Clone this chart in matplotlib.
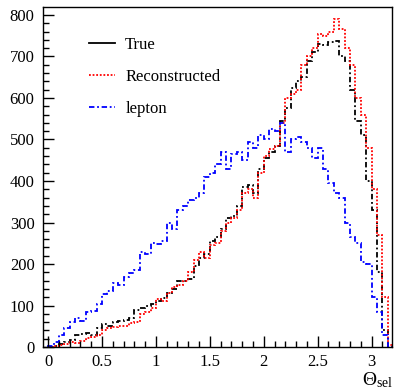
import numpy as np
import matplotlib
matplotlib.use("Agg")
from matplotlib import pyplot as plt
from matplotlib.lines import Line2D
from matplotlib.ticker import MultipleLocator

plt.rcParams['font.family'] = ['Liberation Serif', 'DejaVu Serif']
plt.rcParams['mathtext.fontset'] = 'custom'
plt.rcParams['mathtext.rm'] = 'Liberation Serif'
plt.rcParams['mathtext.it'] = 'Liberation Serif:italic'

# histogram binning (0.05 wide bins from 0 to 3.2)
bin_edges = np.linspace(0.0, 3.2, 65)

true_counts = [0, 3, 8, 12, 18, 28, 32, 35, 30, 45,
               55, 52, 60, 62, 65, 70, 90, 95, 98, 105,
               110, 118, 130, 140, 160, 158, 165, 195, 215, 225,
               255, 265, 285, 310, 315, 340, 385, 390, 370, 430,
               455, 470, 485, 545, 575, 625, 640, 650, 690, 710,
               730, 728, 735, 738, 700, 690, 620, 545, 510, 400,
               330, 180, 40, 0]

reco_counts = [0, 2, 5, 8, 12, 10, 15, 22, 25, 30,
               40, 45, 48, 52, 50, 58, 60, 80, 85, 95,
               115, 112, 130, 145, 150, 160, 180, 210, 230, 215,
               245, 250, 280, 300, 310, 330, 370, 380, 360, 420,
               460, 478, 485, 540, 600, 610, 620, 680, 700, 720,
               755, 750, 760, 790, 765, 720, 680, 600, 560, 480,
               380, 270, 120, 5]

lepton_counts = [3, 12, 30, 45, 60, 70, 62, 85, 88, 105,
                 128, 135, 155, 150, 170, 178, 185, 230, 225, 250,
                 248, 255, 300, 285, 330, 340, 355, 360, 370, 410,
                 420, 440, 470, 430, 465, 470, 450, 495, 480, 510,
                 500, 525, 520, 540, 470, 500, 505, 495, 480, 455,
                 480, 430, 395, 370, 360, 300, 265, 250, 205, 200,
                 120, 85, 30, 0]

labels = ["True", "Reconstructed", "lepton"]

fig = plt.figure(figsize=(3.94, 3.90), dpi=100)
ax = fig.add_axes([0.109, 0.110, 0.886, 0.872])

ax.stairs(true_counts, bin_edges, color="black", lw=1.3, linestyle=(0, (3, 1.5, 1, 1.5)))
ax.stairs(reco_counts, bin_edges, color="red", lw=1.3, linestyle=(0, (1, 1)))
ax.stairs(lepton_counts, bin_edges, color="blue", lw=1.3, linestyle=(0, (3, 1.5, 1, 1.5)))

ax.set_xlim(-0.048, 3.19)
ax.set_ylim(0, 819)

ax.xaxis.set_major_locator(MultipleLocator(0.5))
ax.xaxis.set_minor_locator(MultipleLocator(0.1))
ax.yaxis.set_major_locator(MultipleLocator(100))
ax.yaxis.set_minor_locator(MultipleLocator(20))
ax.xaxis.set_major_formatter(plt.FuncFormatter(lambda v, p: f"{v:g}"))
ax.tick_params(which="both", direction="in", top=False, right=False, labelsize=12)
ax.tick_params(which="major", length=8, width=1)
ax.tick_params(which="minor", length=4, width=1)
ax.tick_params(axis="x", pad=5)
ax.tick_params(axis="y", pad=6)
for s in ax.spines.values():
    s.set_linewidth(1)

# axis title sits at the bottom right corner, ROOT style
fig.text(362 / 394, 1 - 385 / 390, r"$\Theta_{\rm sel}$", fontsize=14,
         ha="left", va="baseline")

handles = [Line2D([], [], color="black", lw=1.3),
           Line2D([], [], color="red", lw=1.3, linestyle=(0, (1, 1))),
           Line2D([], [], color="blue", lw=1.3, linestyle=(0, (3, 1.5, 1, 1.5)))]
ax.legend(handles, labels, loc="upper left", bbox_to_anchor=(0.09, 0.955),
          frameon=False, fontsize=12, handlelength=1.55, handletextpad=0.6,
          labelspacing=0.95)

fig.savefig("out.png", dpi=100)
